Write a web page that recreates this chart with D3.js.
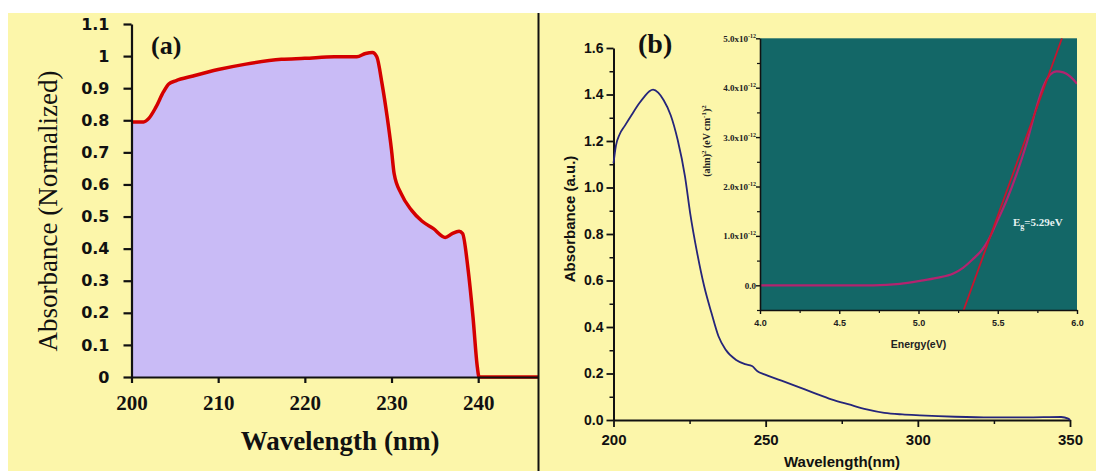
<!DOCTYPE html>
<html><head><meta charset="utf-8">
<script src="https://cdn.jsdelivr.net/npm/d3@7"></script>
<style>body{margin:0;background:#fff}svg{display:block}</style>
</head><body><svg id="c" width="1103" height="471"></svg>
<script>
// ---------- Panel (a) ----------
const wavelengthA = [200,201.4,202.0,202.8,203.7,204.3,205.1,207.1,210,213.2,217.3,220,223.4,226,227,227.8,228.3,228.9,229.5,230,230.3,231.1,232.3,233.5,234.8,236.2,237,237.8,238.2,238.8,239.4,239.9,240.1,246.9];
const absorbanceA = [0.795,0.795,0.806,0.84,0.889,0.913,0.923,0.938,0.958,0.975,0.99,0.993,0.998,0.998,1.008,1.011,0.998,0.915,0.81,0.707,0.634,0.572,0.52,0.486,0.463,0.435,0.447,0.454,0.447,0.343,0.187,0.031,0,0];
const xTicksA = [200,210,220,230,240];
const yTicksA = [0,0.1,0.2,0.3,0.4,0.5,0.6,0.7,0.8,0.9,1,1.1];
const yTickLabelsA = ["0","0.1","0.2","0.3","0.4","0.5","0.6","0.7","0.8","0.9","1","1.1"];

// ---------- Panel (b) ----------
const wavelengthB = [200,200.8,202,203.7,206,208.4,210.1,211.8,213,214.7,216.5,218.8,221.1,223.5,225.2,227.5,229.8,232.2,234.5,236.8,240.3,243.2,245.5,247.3,249.6,254.2,260,265.8,271.6,277.4,283.2,289,294.9,300.7,312.3,323.9,335.5,347.1,349.4,350];
const absorbanceB = [1.104,1.18,1.228,1.265,1.313,1.361,1.39,1.414,1.421,1.408,1.375,1.311,1.204,1.047,0.889,0.718,0.575,0.46,0.36,0.303,0.258,0.24,0.232,0.21,0.196,0.174,0.146,0.117,0.089,0.067,0.046,0.031,0.024,0.02,0.014,0.011,0.011,0.013,0.006,0];
const xTicksB = [200,250,300,350];
const xMinorB = [225,275,325];
const yTicksB = [0,0.2,0.4,0.6,0.8,1.0,1.2,1.4,1.6];
const yMinorB = [0.1,0.3,0.5,0.7,0.9,1.1,1.3,1.5];

// ---------- Inset (Tauc plot), y in units of 1e-12 ----------
const energyI = [4.0,4.715,4.883,5.01,5.115,5.22,5.283,5.346,5.399,5.44,5.49,5.556,5.62,5.682,5.745,5.787,5.83,5.872,5.914,5.956,6.0];
const taucI = [0,0.0,0.03,0.09,0.15,0.24,0.36,0.54,0.71,0.91,1.25,1.72,2.26,2.87,3.61,4.02,4.26,4.33,4.31,4.23,4.08];
const fitE = [5.285,5.905];
const fitY = [-0.5,5.0];
const xTicksI = [4.0,4.5,5.0,5.5,6.0];
const xMinorI = [4.25,4.75,5.25,5.75];
const yTicksI = [0,1,2,3,4,5];
const yMinorI = [-0.5,0.5,1.5,2.5,3.5,4.5];

const svg = d3.select("#c");
svg.append("rect").attr("x",8).attr("y",13).attr("width",1088).attr("height",458).attr("fill","#fcf6aa");

// ===== Panel (a) =====
const xA = d3.scaleLinear().domain([200,246.9]).range([131.5,538]);
const yA = d3.scaleLinear().domain([0,1.1]).range([377,24]);
const dA = wavelengthA.map((w,i)=>[w,absorbanceA[i]]);
const gA = svg.append("g");
gA.append("path").datum(dA)
  .attr("d", d3.area().x(d=>xA(d[0])).y0(yA(0)).y1(d=>yA(d[1])).curve(d3.curveMonotoneX))
  .attr("fill","#c9bbf6");
gA.append("path").datum(dA)
  .attr("d", d3.line().x(d=>xA(d[0])).y(d=>yA(d[1])).curve(d3.curveMonotoneX))
  .attr("fill","none").attr("stroke","#d40000").attr("stroke-width",3.5).attr("stroke-linejoin","round");

const axA_y = gA.append("g").attr("transform",`translate(${xA(200)},0)`)
  .call(d3.axisLeft(yA).tickValues(yTicksA).tickSize(8).tickSizeOuter(0).tickPadding(14).tickFormat((d,i)=>yTickLabelsA[i]));
axA_y.selectAll("text").attr("font-family","DejaVu Sans, Verdana, sans-serif").attr("font-weight","bold").attr("font-size",16).attr("fill","#111");
const axA_x = gA.append("g").attr("transform",`translate(0,${yA(0)})`)
  .call(d3.axisBottom(xA).tickValues(xTicksA).tickSize(6).tickSizeOuter(0).tickFormat(d3.format("d")));
axA_x.selectAll("text").attr("font-family","Liberation Serif, Times New Roman, serif").attr("font-weight","bold").attr("font-size",21).attr("fill","#111").attr("y",33).attr("dy",0);
[axA_y,axA_x].forEach(a=>{a.select(".domain").attr("stroke","#111").attr("stroke-width",2.2);a.selectAll(".tick line").attr("stroke","#111").attr("stroke-width",2.2);});

gA.append("text").attr("x",340).attr("y",450).attr("text-anchor","middle")
  .attr("font-family","Liberation Serif, Times New Roman, serif").attr("font-weight","bold").attr("font-size",27).attr("fill","#111")
  .text("Wavelength (nm)");
gA.append("text").attr("transform","translate(57,211) rotate(-90)").attr("text-anchor","middle")
  .attr("font-family","Liberation Serif, Times New Roman, serif").attr("font-size",27).attr("fill","#111")
  .text("Absorbance (Normalized)");
gA.append("text").attr("x",151).attr("y",54)
  .attr("font-family","Liberation Serif, Times New Roman, serif").attr("font-weight","bold").attr("font-size",26).attr("fill","#111")
  .text("(a)");

// divider
svg.append("line").attr("x1",538.5).attr("x2",538.5).attr("y1",13).attr("y2",471).attr("stroke","#111").attr("stroke-width",2);

// ===== Panel (b) =====
const xB = d3.scaleLinear().domain([200,350]).range([613.5,1070]);
const yB = d3.scaleLinear().domain([0,1.6]).range([420,48]);
const gB = svg.append("g");
const sansB = "Liberation Sans, Arial, sans-serif";
const axB_y = gB.append("g").attr("transform",`translate(${xB(200)},0)`)
  .call(d3.axisLeft(yB).tickValues(yTicksB).tickSize(7).tickSizeOuter(0).tickPadding(3).tickFormat(d3.format(".1f")));
axB_y.selectAll("text").attr("font-family",sansB).attr("font-weight","bold").attr("font-size",14).attr("fill","#111");
gB.append("g").attr("transform",`translate(${xB(200)},0)`)
  .call(d3.axisLeft(yB).tickValues(yMinorB).tickSize(4).tickFormat(""))
  .call(g=>g.select(".domain").remove()).selectAll("line").attr("stroke","#111").attr("stroke-width",1.5);
const axB_x = gB.append("g").attr("transform",`translate(0,${yB(0)})`)
  .call(d3.axisBottom(xB).tickValues(xTicksB).tickSize(7).tickSizeOuter(0).tickFormat(d3.format("d")));
axB_x.selectAll("text").attr("font-family",sansB).attr("font-weight","bold").attr("font-size",15).attr("fill","#111").attr("y",25).attr("dy",0);
gB.append("g").attr("transform",`translate(0,${yB(0)})`)
  .call(d3.axisBottom(xB).tickValues(xMinorB).tickSize(4).tickFormat(""))
  .call(g=>g.select(".domain").remove()).selectAll("line").attr("stroke","#111").attr("stroke-width",1.5);
[axB_y,axB_x].forEach(a=>{a.select(".domain").attr("stroke","#111").attr("stroke-width",2);a.selectAll(".tick line").attr("stroke","#111").attr("stroke-width",1.8);});

gB.append("path").datum(wavelengthB.map((w,i)=>[w,absorbanceB[i]]))
  .attr("d", d3.line().x(d=>xB(d[0])).y(d=>yB(d[1])).curve(d3.curveMonotoneX))
  .attr("fill","none").attr("stroke","#25257a").attr("stroke-width",1.8);

gB.append("text").attr("x",842).attr("y",467).attr("text-anchor","middle")
  .attr("font-family",sansB).attr("font-weight","bold").attr("font-size",15).attr("fill","#111").text("Wavelength(nm)");
gB.append("text").attr("transform","translate(575,219) rotate(-90)").attr("text-anchor","middle")
  .attr("font-family",sansB).attr("font-weight","bold").attr("font-size",15).attr("fill","#111").text("Absorbance (a.u.)");
gB.append("text").attr("x",638).attr("y",53)
  .attr("font-family","Liberation Serif, Times New Roman, serif").attr("font-weight","bold").attr("font-size",28).attr("fill","#111").text("(b)");

// ===== Inset =====
const xI = d3.scaleLinear().domain([4,6]).range([760,1077]);
const yI = d3.scaleLinear().domain([-0.5,5]).range([310,38.3]);
const gI = svg.append("g");
gI.append("rect").attr("x",xI(4)).attr("y",yI(5)).attr("width",xI(6)-xI(4)).attr("height",yI(-0.5)-yI(5)).attr("fill","#136767");
svg.append("clipPath").attr("id","ic").append("rect")
  .attr("x",xI(4)).attr("y",yI(5)).attr("width",xI(6)-xI(4)).attr("height",yI(-0.5)-yI(5));
gI.append("path").datum(energyI.map((e,i)=>[e,taucI[i]])).attr("clip-path","url(#ic)")
  .attr("d", d3.line().x(d=>xI(d[0])).y(d=>yI(d[1])).curve(d3.curveMonotoneX))
  .attr("fill","none").attr("stroke","#b3236f").attr("stroke-width",2.2);
gI.append("path").datum(fitE.map((e,i)=>[e,fitY[i]])).attr("clip-path","url(#ic)")
  .attr("d", d3.line().x(d=>xI(d[0])).y(d=>yI(d[1])))
  .attr("fill","none").attr("stroke","#c8142e").attr("stroke-width",1.8);

const axI_x = gI.append("g").attr("transform",`translate(0,${yI(-0.5)})`)
  .call(d3.axisBottom(xI).tickValues(xTicksI).tickSize(4).tickSizeOuter(0).tickFormat(d3.format(".1f")));
axI_x.selectAll("text").attr("font-family",sansB).attr("font-weight","bold").attr("font-size",9).attr("fill","#222").attr("y",16).attr("dy",0);
gI.append("g").attr("transform",`translate(0,${yI(-0.5)})`)
  .call(d3.axisBottom(xI).tickValues(xMinorI).tickSize(3).tickFormat(""))
  .call(g=>g.select(".domain").remove()).selectAll("line").attr("stroke","#111").attr("stroke-width",1.2);
const axI_y = gI.append("g").attr("transform",`translate(${xI(4)},0)`)
  .call(d3.axisLeft(yI).tickValues(yTicksI).tickSize(4).tickSizeOuter(0).tickPadding(4).tickFormat(""));
gI.append("g").attr("transform",`translate(${xI(4)},0)`)
  .call(d3.axisLeft(yI).tickValues(yMinorI).tickSize(3).tickFormat(""))
  .call(g=>g.select(".domain").remove()).selectAll("line").attr("stroke","#111").attr("stroke-width",1.2);
[axI_x,axI_y].forEach(a=>{a.select(".domain").attr("stroke","#111").attr("stroke-width",1.6);a.selectAll(".tick line").attr("stroke","#111").attr("stroke-width",1.4);});
axI_y.selectAll(".tick").each(function(d){
  const t = d3.select(this).append("text").attr("x",-4).attr("y",3).attr("text-anchor","end")
    .attr("font-family","Liberation Serif, Times New Roman, serif").attr("font-weight","bold").attr("font-size",9).attr("fill","#222");
  if (d === 0) { t.text("0.0"); }
  else {
    t.append("tspan").text(d3.format(".1f")(d)+"x10");
    t.append("tspan").attr("dy",-4).attr("font-size",6).text("-12");
  }
});
gI.append("text").attr("x",918.5).attr("y",348).attr("text-anchor","middle")
  .attr("font-family",sansB).attr("font-weight","bold").attr("font-size",10.5).attr("fill","#222").text("Energy(eV)");
const yt = gI.append("text").attr("transform","translate(710,141) rotate(-90)").attr("text-anchor","middle")
  .attr("font-family","Liberation Serif, Times New Roman, serif").attr("font-weight","bold").attr("font-size",10).attr("fill","#222");
yt.append("tspan").text("(ahn)");
yt.append("tspan").attr("dy",-4).attr("font-size",7).text("2");
yt.append("tspan").attr("dy",4).text(" (eV cm");
yt.append("tspan").attr("dy",-4).attr("font-size",7).text("-1");
yt.append("tspan").attr("dy",4).text(")");
yt.append("tspan").attr("dy",-4).attr("font-size",7).text("2");
const eg = gI.append("text").attr("x",1013).attr("y",226)
  .attr("font-family","Liberation Serif, Times New Roman, serif").attr("font-weight","bold").attr("font-size",11).attr("fill","#e6f2f2");
eg.append("tspan").text("E");
eg.append("tspan").attr("dy",3).attr("font-size",8).text("g");
eg.append("tspan").attr("dy",-3).text("=5.29eV");
</script></body></html>
